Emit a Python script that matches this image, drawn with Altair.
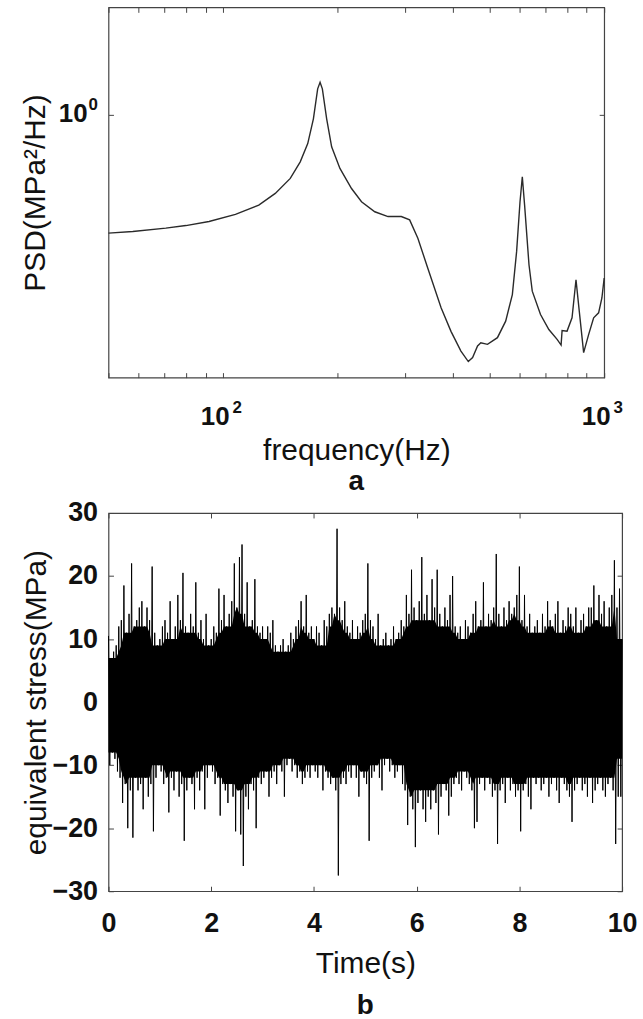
import altair as alt
import pandas as pd

FONT = "Liberation Sans"

# ---------------- panel a: PSD (log-log) ----------------
freq = [50, 57.9, 70.7, 79.8, 91.8, 107.7, 124, 137, 150, 159.3, 166.7, 172.5,
        177, 179.6, 182.1, 186.9, 192.6, 202.5, 217.2, 230.7, 250, 270.8, 293.4,
        308.6, 324.3, 344.4, 373.2, 396.2, 420.7, 439.9, 451.5, 465.2, 474.5, 494,
        524.6, 551.4, 574.1, 589.1, 601.3, 609.7, 618.2, 634.8, 647.5, 680.6,
        715.8, 752.4, 770.7, 775.4, 799, 823.4, 843.4, 860.2, 883.3, 910.6, 938.3,
        966.9, 986.3, 1000]
psd = [0.479, 0.484, 0.494, 0.502, 0.515, 0.538, 0.570, 0.613, 0.673, 0.746, 0.836,
       0.975, 1.175, 1.224, 1.175, 0.975, 0.819, 0.716, 0.632, 0.582, 0.547, 0.531,
       0.531, 0.520, 0.464, 0.385, 0.301, 0.260, 0.230, 0.2155, 0.221, 0.2374,
       0.2423, 0.2398, 0.250, 0.277, 0.3268, 0.4275, 0.582, 0.680, 0.570, 0.3934,
       0.3338, 0.2886, 0.263, 0.2473, 0.2388, 0.2615, 0.2604, 0.2829, 0.3584,
       0.2948, 0.2278, 0.2551, 0.2829, 0.2917, 0.320, 0.3623]

F_MIN, F_MAX = 50, 1000
P_MIN, P_MAX = 0.195, 1.95
freq_ticks = [50, 60, 70, 80, 90, 100, 200, 300, 400, 500, 600, 700, 800, 900, 1000]
freq_major = [100, 1000]
freq_exp = ["2", "3"]
psd_ticks = [1]
psd_exp = ["0"]

# ---------------- panel b: equivalent stress time history ----------------
# upper / lower excursions read every 0.05 s
up = [10.5, 7, 8, 9, 12, 13, 18.5, 11, 14, 22, 12, 13, 15, 16, 12, 15, 13, 21.5, 11, 9,
      10, 12, 13, 11, 16, 10, 12, 17, 13, 20.5, 12, 11, 14, 12, 19, 11, 13, 10, 14, 9,
      10, 12, 11, 18, 13, 17, 12, 14, 16, 22, 15, 23, 25, 14, 19, 12, 13, 19.5, 12, 11,
      12, 10, 12, 11, 13, 9, 8, 9, 10, 8, 9, 11, 10, 12, 13, 16, 12, 17, 11, 12,
      10, 12, 11, 9, 13, 12, 14, 15, 14, 27.5, 15, 13, 16, 12, 11, 13, 10, 12, 11, 13,
      14, 22, 13, 12, 10, 14, 9, 10, 11, 9, 10, 12, 10, 11, 13, 12, 17, 14, 21, 15,
      13, 16, 23, 14, 17, 13, 19.5, 15, 21, 14, 12, 15, 13, 17, 20, 12, 11, 12, 10, 13,
      12, 11, 14, 16, 12, 13, 19, 12, 14, 13, 15, 23.5, 14, 12, 15, 13, 16, 14, 15, 17,
      21.5, 13, 17, 12, 14, 11, 12, 13, 11, 14, 12, 16, 13, 12, 14, 16, 11, 13, 12, 15,
      14, 12, 15, 11, 13, 14, 12, 15, 15, 18.5, 13, 17, 14, 16, 12, 15, 17, 22.5, 15, 18, 10]
lo = [-10, -8, -9, -11, -12, -16, -13, -20, -14, -21.5, -12, -14, -13, -17, -12, -15, -13, -20.5, -12, -10,
      -11, -13, -12, -17.5, -12, -14, -11, -15, -13, -22, -14, -12, -13, -17, -12, -14, -11, -17, -12, -10,
      -11, -13, -12, -18, -13, -14, -16, -13, -15, -20.5, -14, -21, -26, -15, -17, -13, -14, -20, -12, -13,
      -12, -11, -15, -12, -11, -13, -10, -11, -15, -10, -9, -11, -10, -12, -11, -13, -12, -11, -12, -10,
      -11, -12, -10, -14, -11, -12, -13, -12, -14, -27.5, -13, -12, -13, -11, -12, -10, -12, -15, -11, -12,
      -13, -22, -12, -11, -10, -12, -14, -10, -9, -11, -10, -12, -11, -10, -13, -14, -19.5, -15, -17, -23,
      -16, -14, -17, -19, -15, -17, -14, -16, -21, -15, -13, -14, -18, -15, -13, -12, -13, -14, -11, -12,
      -13, -14, -20, -19, -13, -12, -14, -12, -13, -15, -14, -22.5, -14, -13, -16, -12, -14, -13, -15, -14,
      -20.5, -14, -13, -15, -17, -12, -13, -12, -14, -13, -12, -15, -13, -12, -14, -16, -12, -13, -14, -15,
      -19, -14, -13, -12, -14, -13, -15, -12, -16, -14, -13, -12, -14, -15, -13, -12, -14, -22.5, -15, -15, -9]
t_sig = [round(i * 0.05, 3) for i in range(len(up))]

time_ticks = [0, 2, 4, 6, 8, 10]
stress_ticks = [-30, -20, -10, 0, 10, 20, 30]

df_env = pd.DataFrame({"t": t_sig, "up": up, "lo": lo})
# signal drawn as a zig-zag: upper excursion, then lower excursion half a step later
rows = []
for i, (u, l) in enumerate(zip(up, lo)):
    t0 = t_sig[i]
    rows.append({"t": t0, "v": u, "k": 2 * i})
    if t0 < 10:
        rows.append({"t": round(t0 + 0.025, 3), "v": l, "k": 2 * i + 1})
df_zig = pd.DataFrame(rows)
df_psd = pd.DataFrame({"f": freq, "psd": psd})
# tick-label anchors: x labels sit on the lower edge, y label on the left edge
df_xlab = pd.DataFrame({"f": freq_major, "psd": [P_MIN] * len(freq_major), "e": freq_exp})
df_ylab = pd.DataFrame({"f": [F_MIN] * len(psd_ticks), "psd": psd_ticks, "e": psd_exp})

TICK = 5
base_axis = dict(grid=False, domain=False, tickColor="#444", tickSize=TICK,
                 offset=-TICK, tickWidth=1)
lab_axis = dict(labelFont=FONT, labelFontSize=26, labelFontWeight="bold",
                labelColor="#111", titleFont=FONT, titleFontSize=30,
                titleFontWeight="normal", titleColor="#111", labelFlush=False)
mirror_axis = dict(labels=False, title=None, **base_axis)

# ---- panel a ----
x_scale_a = alt.Scale(type="log", domain=[F_MIN, F_MAX], nice=False)
y_scale_a = alt.Scale(type="log", domain=[P_MIN, P_MAX], nice=False)

line_a = alt.Chart(df_psd).mark_line(color="#2a2a2a", strokeWidth=1.4).encode(
    x=alt.X("f:Q", scale=x_scale_a,
            axis=alt.Axis(values=freq_ticks, title="frequency(Hz)", labels=False,
                          titlePadding=58, **base_axis, **lab_axis)),
    y=alt.Y("psd:Q", scale=y_scale_a,
            axis=alt.Axis(values=psd_ticks, title="PSD(MPa²/Hz)", labels=False,
                          titlePadding=58, **base_axis, **lab_axis)),
)
mirror_a = alt.Chart(df_psd).mark_line(opacity=0).encode(
    x=alt.X("f:Q", scale=x_scale_a,
            axis=alt.Axis(values=freq_ticks, orient="top", **mirror_axis)),
    y=alt.Y("psd:Q", scale=y_scale_a,
            axis=alt.Axis(values=psd_ticks, orient="right", **mirror_axis)),
)
# tick labels written as base "10" with a raised exponent
txt = dict(font=FONT, fontWeight="bold", color="#111", baseline="middle")
xe = dict(x=alt.X("f:Q", scale=x_scale_a, axis=None),
          y=alt.Y("psd:Q", scale=y_scale_a, axis=None))
xlab_base = alt.Chart(df_xlab).mark_text(fontSize=26, dx=-8, dy=40, align="center", **txt).encode(
    text=alt.value("10"), **xe)
xlab_exp = alt.Chart(df_xlab).mark_text(fontSize=17, dx=14, dy=31, align="center", **txt).encode(
    text="e:N", **xe)
ylab_base = alt.Chart(df_ylab).mark_text(fontSize=26, align="right", dx=-21, dy=-1, **txt).encode(
    text=alt.value("10"), **xe)
ylab_exp = alt.Chart(df_ylab).mark_text(fontSize=17, align="left", dx=-20, dy=-10, **txt).encode(
    text="e:N", **xe)

top = alt.layer(line_a, mirror_a, xlab_base, xlab_exp, ylab_base, ylab_exp).resolve_axis(
    x="independent", y="independent").properties(
    width=498, height=372,
    title=alt.TitleParams("a", orient="bottom", anchor="middle", frame="group",
                          font=FONT, fontSize=28, fontWeight="bold", color="#111",
                          offset=2),
)

# ---- panel b ----
x_scale_b = alt.Scale(domain=[0, 10], nice=False)
y_scale_b = alt.Scale(domain=[-30, 30], nice=False)
lab_b = dict(lab_axis, labelFontSize=27)

# solid core: local inner envelope of the read excursions (rolling min / max)
core = alt.Chart(df_env).transform_window(
    core_hi="min(up)", core_lo="max(lo)", frame=[-2, 2],
    sort=[alt.SortField("t", order="ascending")],
).mark_area(color="black", interpolate="linear").encode(
    x=alt.X("t:Q", scale=x_scale_b,
            axis=alt.Axis(values=time_ticks, title="Time(s)", labelPadding=19,
                          titlePadding=13, **base_axis, **lab_b)),
    y=alt.Y("core_lo:Q", scale=y_scale_b,
            axis=alt.Axis(values=stress_ticks, title="equivalent stress(MPa)",
                          labelPadding=11, titlePadding=0, **base_axis, **lab_b)),
    y2="core_hi:Q",
)
zig = alt.Chart(df_zig).mark_line(color="black", strokeWidth=1.0).encode(
    x=alt.X("t:Q", scale=x_scale_b,
            axis=alt.Axis(values=time_ticks, orient="top", **mirror_axis)),
    y=alt.Y("v:Q", scale=y_scale_b,
            axis=alt.Axis(values=stress_ticks, orient="right", **mirror_axis)),
    order="k:Q",
)
bottom = alt.layer(core, zig).resolve_axis(x="independent", y="independent").properties(
    width=516, height=380,
    title=alt.TitleParams("b", orient="bottom", anchor="middle", frame="group",
                          font=FONT, fontSize=28, fontWeight="bold", color="#111",
                          offset=13),
)

chart = alt.vconcat(top, bottom, spacing=1).configure_view(
    stroke="#444", strokeWidth=1.2
).properties(background="white", padding={"left": 19, "top": 3, "right": 5, "bottom": 0})

chart.save("out.html", embed_options={"renderer": "svg", "actions": False})
